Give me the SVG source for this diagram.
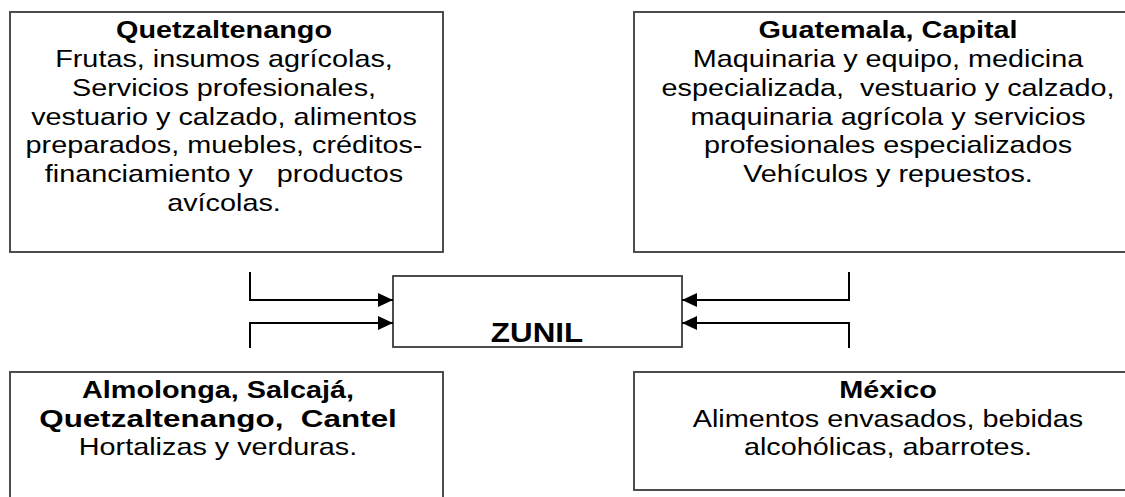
<svg xmlns="http://www.w3.org/2000/svg" width="1125" height="497" viewBox="0 0 1125 497">
<style>
.box{fill:#fff;stroke:#3a3a3a;stroke-width:1.8}
.t{font-family:"Liberation Sans",Arial,sans-serif;font-size:24px;fill:#000;text-anchor:middle;white-space:pre}
.b{font-weight:bold}
.z{font-family:"Liberation Sans",Arial,sans-serif;font-size:28px;font-weight:bold;fill:#000;text-anchor:middle}
.c{fill:none;stroke:#000;stroke-width:2}
</style>
<defs>
<marker id="arr" markerUnits="userSpaceOnUse" markerWidth="15" markerHeight="14" refX="15" refY="7" orient="auto">
<path d="M0,0 L15,7 L0,14 z" fill="#000"/>
</marker>
</defs>
<rect width="1125" height="497" fill="#fff"/>
<g id="quetzaltenango">
<rect class="box" x="10" y="12" width="433" height="240"/>
<g transform="translate(224,0) scale(1.2,1)">
<text class="t"><tspan class="b" x="0" y="38">Quetzaltenango</tspan><tspan x="0" y="67">Frutas, insumos agrícolas,</tspan><tspan x="0" y="96">Servicios profesionales,</tspan><tspan x="0" y="125">vestuario y calzado, alimentos</tspan><tspan x="0" y="153">preparados, muebles, créditos-</tspan><tspan x="0" y="182">financiamiento y   productos</tspan><tspan x="0" y="211">avícolas.</tspan></text>
</g>
</g>
<g id="guatemala">
<rect class="box" x="634" y="12" width="510" height="240"/>
<g transform="translate(888,0) scale(1.2,1)">
<text class="t"><tspan class="b" x="0" y="38">Guatemala, Capital</tspan><tspan x="0" y="67">Maquinaria y equipo, medicina</tspan><tspan x="0" y="96">especializada,  vestuario y calzado,</tspan><tspan x="0" y="125">maquinaria agrícola y servicios</tspan><tspan x="0" y="153">profesionales especializados</tspan><tspan x="0" y="182">Vehículos y repuestos.</tspan></text>
</g>
</g>
<g id="zunil">
<rect class="box" x="393" y="276" width="289" height="71"/>
<g transform="translate(537,342) scale(1.12,1)">
<text class="z" x="0" y="0">ZUNIL</text>
</g>
</g>
<g id="almolonga">
<rect class="box" x="10" y="372" width="433" height="150"/>
<g transform="translate(218,0) scale(1.2,1)">
<text class="t b" x="0" y="398">Almolonga, Salcajá,</text>
<text class="t b" x="0" y="427" textLength="298" lengthAdjust="spacingAndGlyphs">Quetzaltenango,  Cantel</text>
<text class="t" x="0" y="455">Hortalizas y verduras.</text>
</g>
</g>
<g id="mexico">
<rect class="box" x="634" y="372" width="510" height="118"/>
<g transform="translate(888,0) scale(1.2,1)">
<text class="t"><tspan class="b" x="0" y="398">México</tspan><tspan x="0" y="427">Alimentos envasados, bebidas</tspan><tspan x="0" y="455">alcohólicas, abarrotes.</tspan></text>
</g>
</g>
<g id="connectors">
<path class="c" d="M250,272 V300 H393" marker-end="url(#arr)"/>
<path class="c" d="M250,348 V323 H393" marker-end="url(#arr)"/>
<path class="c" d="M849,272 V300 H682" marker-end="url(#arr)"/>
<path class="c" d="M849,348 V323 H682" marker-end="url(#arr)"/>
</g>
</svg>
